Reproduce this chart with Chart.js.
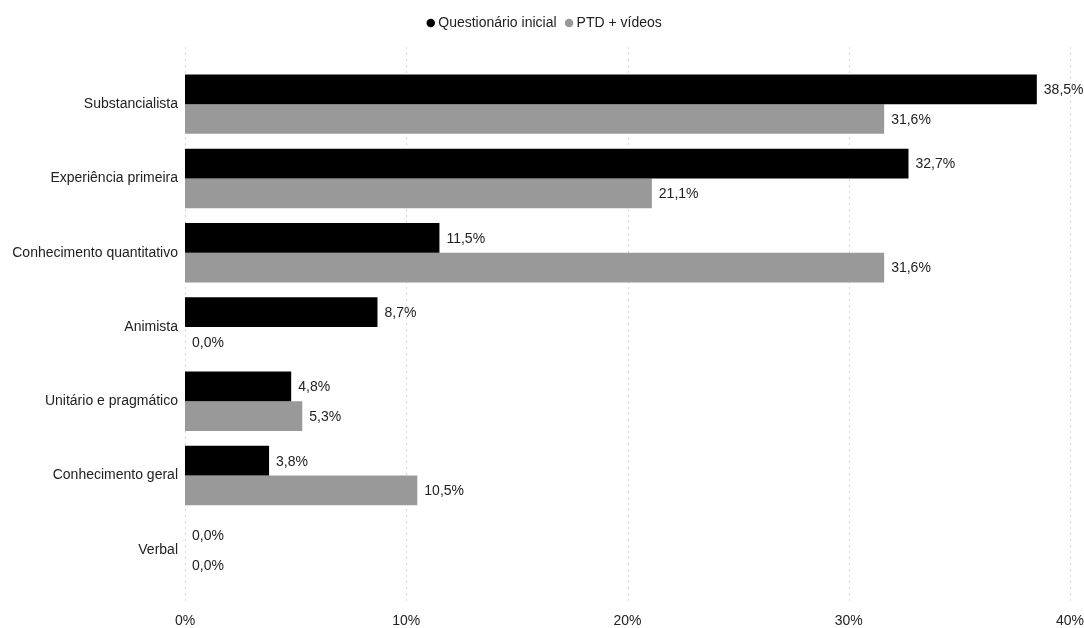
<!DOCTYPE html>
<html>
<head>
<meta charset="utf-8">
<script src="https://cdn.jsdelivr.net/npm/chart.js@4/dist/chart.umd.min.js"></script>
<style>
  html,body{margin:0;padding:0;background:#fff;overflow:hidden;}
  canvas{display:block;}
</style>
</head>
<body>
<canvas id="c" width="1084" height="628"></canvas>
<script>
const categories=['Substancialista','Experiência primeira','Conhecimento quantitativo','Animista','Unitário e pragmático','Conhecimento geral','Verbal'];
const inicial=[38.5,32.7,11.5,8.7,4.8,3.8,0.0];
const ptdVideos=[31.6,21.1,31.6,0.0,5.3,10.5,0.0];
const xTicks=[0,10,20,30,40];

const FONT='"Liberation Sans", Arial, sans-serif';
const fmt=v=>v.toFixed(1).replace('.',',')+'%';

// extra room under the legend, and dotted vertical grid taller than the category band
const gridPlugin={
  id:'grid',
  beforeInit(chart){
    const fit=chart.legend.fit;
    chart.legend.fit=function(){fit.call(this);this.height+=27;};
  },
  afterLayout(chart){
    chart.legend.left+=11;
    chart.legend.right+=11;
  },
  beforeDatasetsDraw(chart){
    const {ctx,chartArea,scales}=chart;
    ctx.save();
    ctx.strokeStyle='#d6d6d6';
    ctx.lineWidth=1;
    ctx.setLineDash([2,4]);
    xTicks.forEach(v=>{
      const x=Math.round(scales.x.getPixelForValue(v))+0.5;
      ctx.beginPath();
      ctx.moveTo(x,chartArea.top-20);
      ctx.lineTo(x,chartArea.bottom+17);
      ctx.stroke();
    });
    ctx.restore();
  }
};

const labelPlugin={
  id:'vals',
  afterDatasetsDraw(chart){
    const {ctx}=chart;
    ctx.save();
    ctx.font='14px '+FONT;
    ctx.fillStyle='#222';
    ctx.textAlign='left';
    ctx.textBaseline='middle';
    chart.data.datasets.forEach((ds,i)=>{
      chart.getDatasetMeta(i).data.forEach((bar,j)=>{
        ctx.fillText(fmt(ds.data[j]),bar.x+7,bar.y+1);
      });
    });
    ctx.restore();
  }
};

new Chart(document.getElementById('c'),{
  type:'bar',
  data:{
    labels:categories,
    datasets:[
      {label:'Questionário inicial',data:inicial,backgroundColor:'#000000',borderWidth:0,categoryPercentage:0.8,barPercentage:1.0},
      {label:'PTD + vídeos',data:ptdVideos,backgroundColor:'#999999',borderWidth:0,categoryPercentage:0.8,barPercentage:1.0}
    ]
  },
  options:{
    indexAxis:'y',
    responsive:false,animation:false,
    layout:{padding:{left:0,right:14,top:4,bottom:0}},
    plugins:{
      legend:{
        position:'top',
        labels:{usePointStyle:true,pointStyle:'circle',boxWidth:1,boxHeight:6,padding:12,color:'#222',font:{family:FONT,size:14}}
      },
      tooltip:{enabled:false}
    },
    scales:{
      x:{
        min:0,max:40,
        afterBuildTicks(s){s.ticks=xTicks.map(v=>({value:v}));},
        grid:{display:false,drawTicks:false},
        border:{display:false},
        ticks:{callback:v=>v+'%',color:'#222',font:{family:FONT,size:14},padding:26,maxRotation:0},
        afterFit(s){s.height=41;s.paddingLeft=0;s.paddingRight=0;}
      },
      y:{
        grid:{display:false,drawTicks:false},
        border:{display:false},
        ticks:{color:'#222',font:{family:FONT,size:14},padding:7},
        afterFit(s){s.width=185;s.paddingTop=0;s.paddingBottom=0;}
      }
    }
  },
  plugins:[gridPlugin,labelPlugin]
});
</script>
</body>
</html>
